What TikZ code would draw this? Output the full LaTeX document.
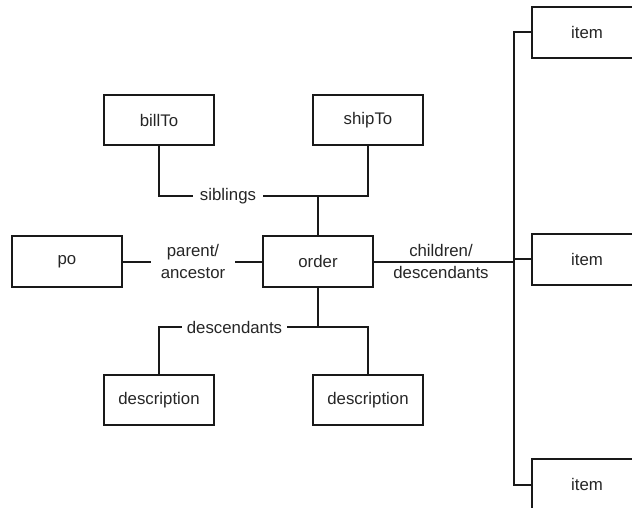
\documentclass[tikz,border=0pt]{standalone}
\usepackage{fontspec}
\setmainfont{Liberation Sans}
\begin{document}
\begin{tikzpicture}[x=1pt,y=-1pt,
  every node/.style={font=\fontsize{16.8}{21.5}\selectfont, text=black!85},
  box/.style={draw=black!90, line width=2pt, minimum width=110pt, minimum height=50pt, inner sep=0pt},
  lbl/.style={inner ysep=0pt},
  conn/.style={line width=2pt, draw=black!90}]
\clip (0,0) rectangle (632,508);
\fill[white] (0,0) rectangle (632,508);
% boxes
\node[box] (billTo) at (159,120.5) {billTo};
\node[box] (shipTo) at (368,120.5) {shipTo};
\node[box, minimum height=51pt] (po) at (67,261.5) {po};
\node[box, minimum height=51pt] (order) at (318,261.5) {order};
\node[box] (desc1) at (159,400) {description};
\node[box] (desc2) at (368,400) {description};
\node[box, minimum height=51pt] (item1) at (587,32.5) {item};
\node[box, minimum height=51pt] (item2) at (587,259) {item};
\node[box, minimum height=51pt] (item3) at (587,484.5) {item};
% siblings
\node[lbl, inner xsep=7pt] (sib) at (228,196) {siblings};
\draw[conn] (billTo.south) |- (sib.west);
\draw[conn] (sib.east) -| (shipTo.south);
\draw[conn] (order.north) -- (order.north |- sib);
% parent / ancestor
\node[lbl, align=center, inner xsep=10pt] (par) at (193,261.5) {parent/\\ancestor};
\draw[conn] (po.east) -- (po.east -| par.west);
\draw[conn] (par.east |- order.west) -- (order.west);
% children / descendants
\coordinate (bus) at (514,261.5);
\draw[conn] (order.east) -- (bus);
\node[lbl, align=center] (chi) at (441,261.5) {children/\\descendants};
\coordinate (bustop) at (514,32.5);
\coordinate (busbot) at (514,484.5);
\draw[conn] (item1.west) -- (bustop) -- (busbot) -- (item3.west);
\draw[conn] (bus |- item2.west) -- (item2.west);
% descendants
\node[lbl, inner xsep=5pt] (des) at (234.5,327) {descendants};
\draw[conn] (desc1.north) |- (des.west);
\draw[conn] (des.east) -| (desc2.north);
\draw[conn] (order.south) -- (order.south |- des);
\end{tikzpicture}
\end{document}
